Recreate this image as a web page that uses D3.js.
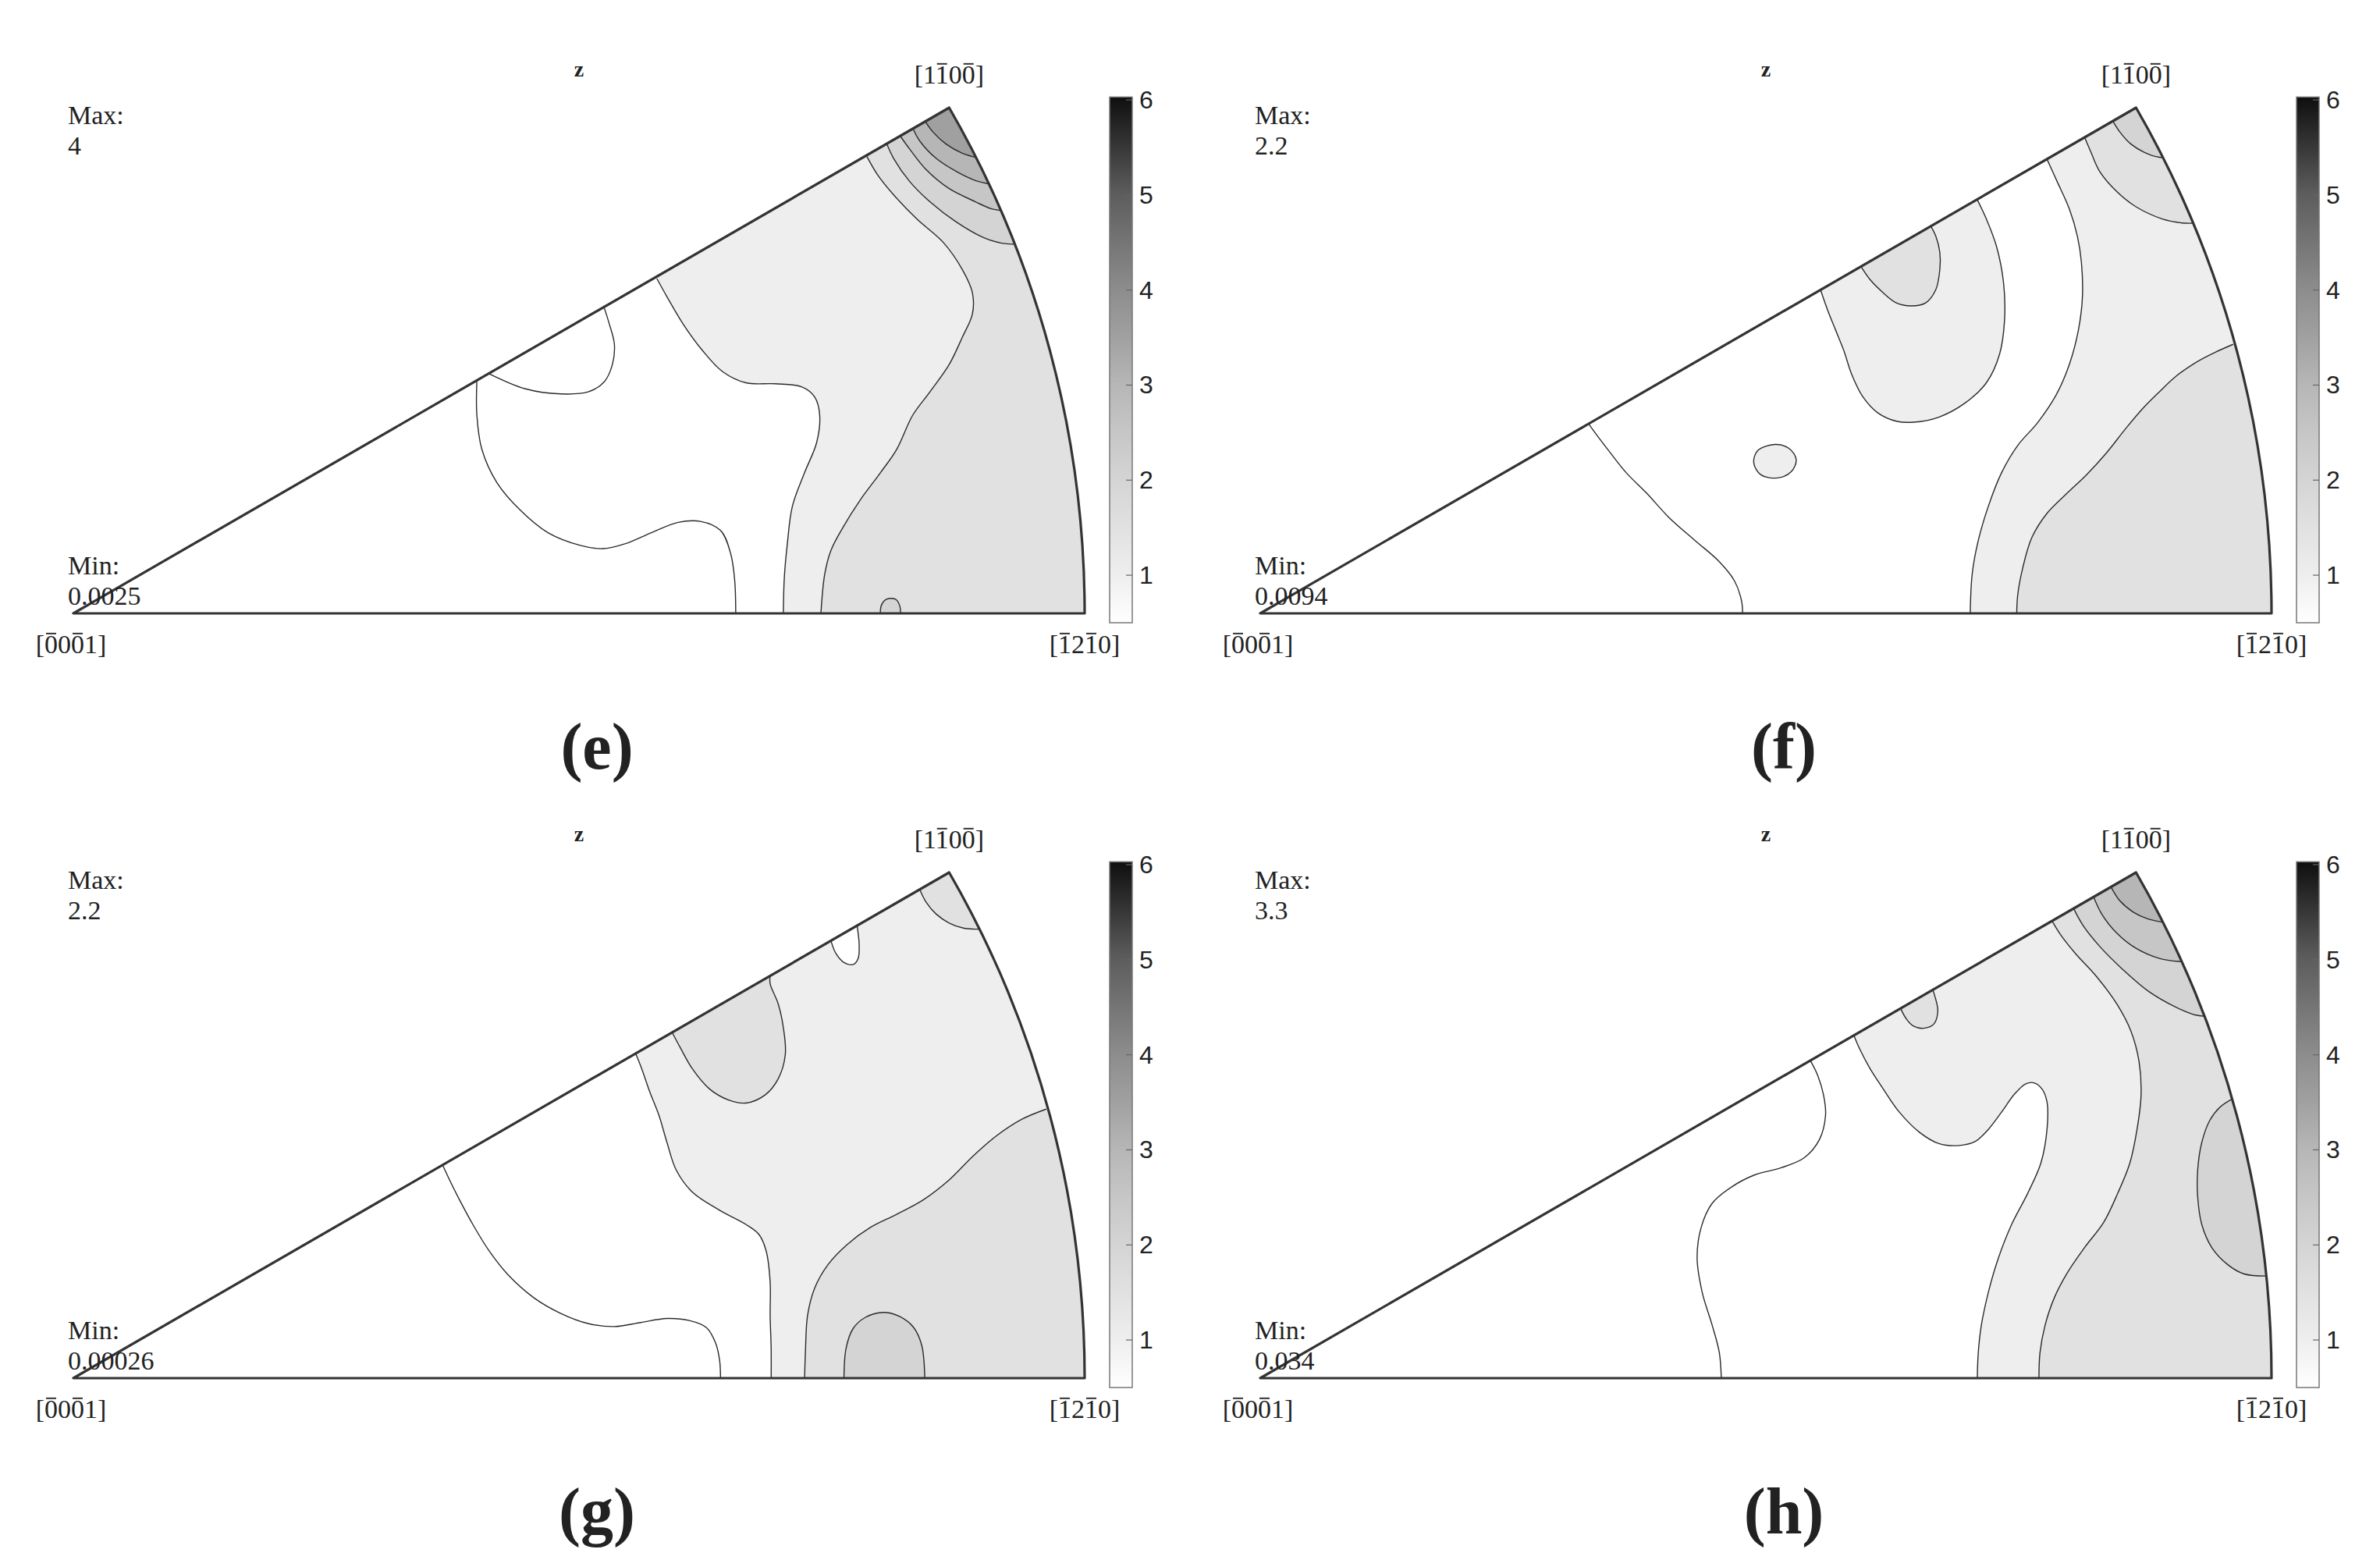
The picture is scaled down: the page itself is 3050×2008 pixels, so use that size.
<!DOCTYPE html>
<html>
<head>
<meta charset="utf-8">
<script src="https://cdn.jsdelivr.net/npm/d3@7/dist/d3.min.js"></script>
<style>
  body { margin: 0; background: #fff; }
  text { font-family: "Liberation Serif", "DejaVu Serif", serif; fill: #222; }
</style>
</head>
<body>
<svg id="chart" width="3050" height="2008"></svg>
<script>
// ---- data ----
// contour levels and the grey colour map of the colour bar (value -> grey)
const levels = [0.5, 1, 1.5, 2, 2.5, 3, 3.5];
const cmapValues = [0.5, 1, 1.5, 2, 2.5, 3, 3.5, 4, 5, 6];
const cmapGrays = [255, 238, 225, 212, 198, 182, 160, 140, 92, 15];
const colorbarTicks = [1, 2, 3, 4, 5, 6];

const panelNames = ["(e)", "(f)", "(g)", "(h)"];
const maxValues = ["4", "2.2", "2.2", "3.3"];
const minValues = ["0.0025", "0.0094", "0.00026", "0.034"];

// crystal direction labels, with the indices of the characters that carry a bar
const labelOrigin = { text: "[0001]", bars: [1, 3] };
const labelRight = { text: "[1210]", bars: [1, 3] };
const labelTop = { text: "[1100]", bars: [2, 4] };

// contours in stereographic coordinates (u, v): [0001] at (0,0), radius 1
// level = lower bound of the band filled on the "out" side of the line
// out = points outside the sector that close the filled region
const contoursE = [
  { level: 0.5,
    lines: [
      [[.525,.302],[.530,.286],[.535,.266],[.533,.246],[.525,.229],[.509,.219],[.482,.217],[.447,.222],[.411,.237]],
      [[.399,.230],[.399,.196],[.404,.162],[.419,.129],[.442,.102],[.469,.080],[.502,.067],[.523,.064],[.546,.069],[.572,.080],[.598,.090],[.620,.091],[.640,.082],[.650,.059],[.654,.032],[.655,-.003]]
    ],
    out: [[.655,-.05],[1.2,-.05],[1.2,.9],[.45,.9]] },
  { level: 1,
    lines: [[[.577,.331],[.587,.313],[.603,.286],[.622,.260],[.642,.239],[.665,.228],[.694,.227],[.720,.224],[.733,.214],[.738,.196],[.735,.169],[.723,.139],[.711,.106],[.706,.069],[.703,.035],[.702,-.003]]],
    out: [[.702,-.05],[1.2,-.05],[1.2,.9],[.55,.9]] },
  { level: 1.5,
    lines: [[[.784,.453],[.795,.434],[.811,.414],[.834,.390],[.860,.367],[.879,.340],[.889,.317],[.889,.296],[.879,.273],[.866,.246],[.847,.219],[.830,.196],[.814,.162],[.798,.139],[.778,.112],[.761,.085],[.749,.062],[.743,.039],[.739,-.003]]],
    out: [[.739,-.05],[1.2,-.05],[1.2,.9],[.75,.9]] },
  { level: 2,
    lines: [[[.798,-.003],[.799,.008],[.804,.014],[.813,.014],[.817,.008],[.818,-.003]]],
    out: [[.818,-.05],[.798,-.05]] },
  { level: 2,
    lines: [[[.804,.465],[.811,.450],[.827,.427],[.847,.407],[.873,.387],[.899,.372],[.918,.366],[.935,.365]]],
    out: [[1.2,.365],[1.2,.9],[.80,.9]] },
  { level: 2.5,
    lines: [[[.817,.473],[.827,.459],[.843,.439],[.866,.420],[.892,.407],[.908,.400],[.922,.398]]],
    out: [[1.2,.398],[1.2,.9],[.81,.9]] },
  { level: 3,
    lines: [[[.830,.480],[.837,.467],[.853,.450],[.873,.437],[.892,.428],[.909,.424]]],
    out: [[1.2,.424],[1.2,.9],[.82,.9]] },
  { level: 3.5,
    lines: [[[.842,.487],[.850,.476],[.863,.464],[.879,.455],[.896,.450]]],
    out: [[1.2,.45],[1.2,.9],[.83,.9]] }
];

const contoursF = [
  { level: 0.5,
    lines: [[[.325,.187],[.333,.176],[.346,.159],[.362,.139],[.382,.119],[.404,.095],[.430,.072],[.453,.052],[.469,.032],[.476,.012],[.477,-.003]]],
    out: [[.477,-.05],[1.2,-.05],[1.2,.9],[.30,.9]] },
  { level: 1,
    lines: [[[.554,.320],[.561,.300],[.569,.280],[.577,.260],[.585,.236],[.596,.214],[.611,.198],[.629,.190],[.646,.189],[.671,.194],[.697,.208],[.718,.228],[.731,.256],[.736,.290],[.735,.327],[.728,.363],[.718,.390],[.709,.409]]],
    out: [[.70,.6],[.55,.6]] },
  { level: 1,
    lines: [[[.778,.449],[.788,.427],[.800,.400],[.808,.373],[.812,.347],[.813,.313],[.809,.280],[.800,.246],[.787,.216],[.769,.189],[.749,.166],[.733,.139],[.720,.106],[.710,.072],[.704,.039],[.702,-.003]]],
    out: [[.702,-.05],[1.2,-.05],[1.2,.9],[.77,.9]] },
  { level: 1,
    loop: [[.509,.167],[.523,.163],[.530,.152],[.525,.140],[.512,.134],[.495,.137],[.488,.149],[.492,.161]] },
  { level: 1.5,
    lines: [[[.815,.471],[.821,.457],[.830,.437],[.847,.417],[.866,.402],[.892,.390],[.912,.386],[.928,.386]]],
    out: [[1.2,.386],[1.2,.9],[.81,.9]] },
  { level: 1.5,
    lines: [[[.594,.343],[.603,.330],[.616,.317],[.629,.307],[.644,.304],[.658,.307],[.668,.320],[.672,.340],[.672,.357],[.668,.373],[.663,.383]]],
    out: [[.66,.5],[.59,.5]] },
  { level: 1.5,
    lines: [[[.962,.266],[.944,.258],[.925,.248],[.905,.234],[.889,.219],[.873,.203],[.856,.183],[.837,.159],[.817,.137],[.798,.119],[.778,.099],[.763,.075],[.754,.045],[.749,.018],[.748,-.003]]],
    out: [[.748,-.05],[1.2,-.05],[1.2,.27]] },
  { level: 2,
    lines: [[[.843,.487],[.850,.476],[.861,.464],[.874,.456],[.889,.451],[.896,.451]]],
    out: [[1.2,.451],[1.2,.9],[.84,.9]] }
];

const contoursG = [
  { level: 0.5,
    lines: [[[.365,.211],[.372,.196],[.382,.176],[.395,.152],[.411,.126],[.430,.102],[.456,.079],[.482,.064],[.509,.054],[.535,.051],[.561,.055],[.587,.059],[.609,.057],[.626,.050],[.635,.035],[.639,.018],[.640,-.003]]],
    out: [[.640,-.05],[1.2,-.05],[1.2,.9],[.35,.9]] },
  { level: 1,
    lines: [[[.556,.321],[.562,.306],[.570,.283],[.579,.260],[.587,.233],[.596,.206],[.612,.184],[.639,.166],[.665,.152],[.678,.142],[.685,.126],[.689,.095],[.689,.062],[.690,.029],[.690,-.003]]],
    out: [[.690,-.05],[1.2,-.05],[1.2,.9],[.54,.9]] },
  { level: 0.5,
    lines: [[[.749,.433],[.754,.420],[.762,.411],[.771,.409],[.776,.415],[.777,.429],[.775,.447]]],
    out: [[.775,.55],[.749,.55]] },
  { level: 1.5,
    lines: [[[.592,.342],[.600,.327],[.612,.306],[.629,.286],[.648,.275],[.665,.272],[.684,.280],[.697,.296],[.704,.320],[.702,.347],[.697,.370],[.689,.390],[.689,.398]]],
    out: [[.68,.55],[.58,.55]] },
  { level: 1.5,
    lines: [[[.837,.483],[.843,.471],[.853,.459],[.866,.450],[.880,.445],[.891,.444],[.900,.444]]],
    out: [[1.2,.444],[1.2,.9],[.83,.9]] },
  { level: 1.5,
    lines: [[[.962,.266],[.938,.256],[.912,.239],[.889,.219],[.866,.196],[.840,.176],[.814,.162],[.788,.149],[.765,.132],[.746,.112],[.733,.089],[.726,.062],[.724,.029],[.723,-.003]]],
    out: [[.723,-.05],[1.2,-.05],[1.2,.27]] },
  { level: 2,
    lines: [[[.762,-.003],[.764,.029],[.771,.049],[.783,.060],[.801,.065],[.817,.061],[.831,.050],[.839,.032],[.842,-.003]]],
    out: [[.842,-.05],[.762,-.05]] }
];

const contoursH = [
  { level: 0.5,
    lines: [[[.544,.314],[.551,.300],[.557,.280],[.559,.260],[.553,.236],[.538,.218],[.515,.208],[.489,.201],[.466,.189],[.447,.173],[.436,.149],[.432,.119],[.437,.085],[.447,.052],[.454,.025],[.456,-.003]]],
    out: [[.456,-.05],[1.2,-.05],[1.2,.9],[.53,.9]] },
  { level: 1,
    lines: [[[.587,.339],[.593,.325],[.603,.306],[.616,.286],[.632,.263],[.652,.243],[.671,.232],[.691,.230],[.707,.234],[.720,.246],[.733,.263],[.746,.281],[.757,.291],[.765,.292],[.773,.286],[.778,.273],[.778,.246],[.772,.213],[.759,.183],[.743,.152],[.730,.119],[.720,.085],[.713,.052],[.710,.025],[.709,-.003]]],
    out: [[.709,-.05],[1.2,-.05],[1.2,.9],[.57,.9]] },
  { level: 1.5,
    lines: [[[.633,.366],[.639,.355],[.646,.348],[.656,.346],[.666,.350],[.670,.363],[.667,.378],[.665,.384]]],
    out: [[.66,.5],[.62,.5]] },
  { level: 1.5,
    lines: [[[.783,.452],[.791,.439],[.806,.420],[.827,.397],[.847,.370],[.861,.343],[.869,.313],[.871,.280],[.867,.246],[.860,.213],[.848,.183],[.834,.154],[.815,.129],[.798,.104],[.785,.079],[.776,.052],[.771,.025],[.770,-.003]]],
    out: [[.770,-.05],[1.2,-.05],[1.2,.9],[.77,.9]] },
  { level: 2,
    lines: [[[.961,.276],[.949,.268],[.939,.255],[.931,.233],[.927,.206],[.927,.179],[.931,.152],[.941,.129],[.957,.112],[.973,.103],[.995,.101]]],
    out: [[1.2,.10],[1.2,.28]] },
  { level: 2,
    lines: [[[.804,.465],[.814,.447],[.830,.427],[.853,.404],[.879,.382],[.905,.367],[.925,.359],[.936,.358]]],
    out: [[1.2,.358],[1.2,.9],[.80,.9]] },
  { level: 2.5,
    lines: [[[.824,.476],[.832,.459],[.847,.440],[.866,.425],[.889,.415],[.908,.412],[.915,.412]]],
    out: [[1.2,.412],[1.2,.9],[.82,.9]] },
  { level: 3,
    lines: [[[.841,.486],[.850,.472],[.863,.461],[.878,.454],[.892,.451],[.898,.450]]],
    out: [[1.2,.45],[1.2,.9],[.84,.9]] }
];

const panelContours = [contoursE, contoursF, contoursG, contoursH];

// ---- layout ----
const R = 1296;
const panelOrigins = [[94, 786], [1615, 786], [94, 1766], [1615, 1766]];

const svg = d3.select("#chart");
svg.append("rect").attr("width", 3050).attr("height", 2008).attr("fill", "#fff");

// grey colour map shared by the bar and the contour bands
const grey = d3.scaleLinear().domain(cmapValues).range(cmapGrays).clamp(true);
const cmap = v => { const g = Math.round(grey(v)); return `rgb(${g},${g},${g})`; };

const defs = svg.append("defs");
const grad = defs.append("linearGradient").attr("id", "cbar")
  .attr("x1", 0).attr("y1", 1).attr("x2", 0).attr("y2", 0);
cmapValues.forEach(v => {
  grad.append("stop").attr("offset", (v - 0.5) / 5.5).attr("stop-color", cmap(v));
});

// draws a bracketed direction label and puts bars over some characters
function barLabel(g, lab, px, py, size) {
  const t = g.append("text")
    .attr("x", px).attr("y", py)
    .attr("text-anchor", "middle")
    .style("font-size", size + "px")
    .text(lab.text);
  const node = t.node();
  for (const i of lab.bars) {
    const a = node.getStartPositionOfChar(i).x;
    const b = node.getEndPositionOfChar(i).x;
    g.append("line")
      .attr("x1", a + 2).attr("x2", b - 2)
      .attr("y1", py - size * 0.74).attr("y2", py - size * 0.74)
      .attr("stroke", "#333").attr("stroke-width", 2);
  }
}

function drawPanel(idx) {
  const [ox, oy] = panelOrigins[idx];
  const x = d3.scaleLinear().domain([0, 1]).range([ox, ox + R]);
  const y = d3.scaleLinear().domain([0, 1]).range([oy, oy - R]);
  const g = svg.append("g");

  // sector outline: [0001] -> [1210] -> arc -> [1100]
  const sector = d3.path();
  sector.moveTo(x(0), y(0));
  sector.lineTo(x(1), y(0));
  sector.arc(x(0), y(0), x(1) - x(0), 0, -Math.PI / 6, true);
  sector.closePath();

  defs.append("clipPath").attr("id", "clip" + idx)
    .append("path").attr("d", sector.toString());

  g.append("path").attr("d", sector.toString()).attr("fill", cmap(0.5));

  const lineGen = d3.line().x(d => x(d[0])).y(d => y(d[1])).curve(d3.curveCatmullRom.alpha(0.5));
  const loopGen = d3.line().x(d => x(d[0])).y(d => y(d[1])).curve(d3.curveCatmullRomClosed.alpha(0.5));

  const body = g.append("g").attr("clip-path", `url(#clip${idx})`);
  const contours = panelContours[idx];

  // filled bands, in drawing order
  contours.forEach(c => {
    let d;
    if (c.loop) {
      d = loopGen(c.loop);
    } else {
      d = c.lines.map((l, k) => {
        const s = lineGen(l);
        return k === 0 ? s : "L" + s.slice(1);
      }).join("");
      c.out.forEach(p => { d += "L" + x(p[0]) + "," + y(p[1]); });
      d += "Z";
    }
    body.append("path").attr("d", d).attr("fill", cmap(c.level)).attr("stroke", "none");
  });

  // contour lines on top
  contours.forEach(c => {
    const paths = c.loop ? [loopGen(c.loop)] : c.lines.map(l => lineGen(l));
    paths.forEach(p => {
      body.append("path").attr("d", p)
        .attr("fill", "none").attr("stroke", "#2a2a2a").attr("stroke-width", 1.4);
    });
  });

  g.append("path").attr("d", sector.toString())
    .attr("fill", "none").attr("stroke", "#333").attr("stroke-width", 3.2)
    .attr("stroke-linejoin", "round");

  // texts
  g.append("text").attr("x", ox - 7).attr("y", oy - 627).style("font-size", "34px").text("Max:");
  g.append("text").attr("x", ox - 7).attr("y", oy - 588).style("font-size", "34px").text(maxValues[idx]);
  g.append("text").attr("x", ox - 7).attr("y", oy - 50).style("font-size", "34px").text("Min:");
  g.append("text").attr("x", ox - 7).attr("y", oy - 11).style("font-size", "34px").text(minValues[idx]);

  g.append("text").attr("x", ox + 648).attr("y", oy - 688)
    .attr("text-anchor", "middle").style("font-size", "28px").style("font-weight", "bold").text("z");

  barLabel(g, labelOrigin, x(0) - 3, oy + 51, 34);
  barLabel(g, labelRight, x(1), oy + 51, 34);
  barLabel(g, labelTop, x(Math.cos(Math.PI / 6)), oy - 679, 34);

  g.append("text").attr("x", ox + 671).attr("y", oy + 199)
    .attr("text-anchor", "middle").style("font-size", "84px").style("font-weight", "bold")
    .text(panelNames[idx]);

  // colour bar
  const cbX = ox + 1328, cbW = 29;
  const cy = d3.scaleLinear().domain([0.5, 6]).range([oy + 12, oy - 658]);
  g.append("rect").attr("x", cbX).attr("y", cy(6.03)).attr("width", cbW)
    .attr("height", cy(0.5) - cy(6.03)).attr("fill", "url(#cbar)")
    .attr("stroke", "#777").attr("stroke-width", 1.5);
  colorbarTicks.forEach(t => {
    g.append("line").attr("x1", cbX + cbW - 8).attr("x2", cbX + cbW)
      .attr("y1", cy(t)).attr("y2", cy(t)).attr("stroke", "#666").attr("stroke-width", 1.2);
    g.append("text").attr("x", cbX + cbW + 9).attr("y", cy(t))
      .attr("dominant-baseline", "central")
      .style("font-family", "'Liberation Sans', Arial, sans-serif").style("font-size", "32px")
      .text(t);
  });
}

d3.range(4).forEach(drawPanel);
</script>
</body>
</html>
